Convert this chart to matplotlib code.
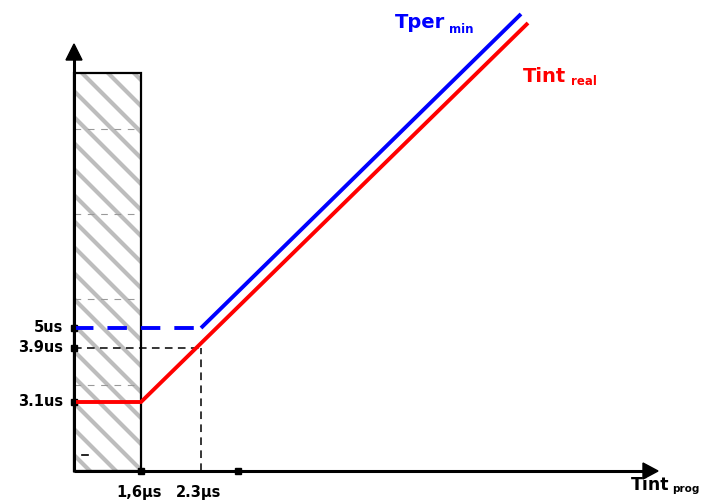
import matplotlib
matplotlib.use("Agg")
import matplotlib.pyplot as plt
from matplotlib.patches import Rectangle, Polygon

# Schematic chart units (origin = axes crossing)
x_tick_pos = [67, 127, 164]
x_tick_labels = ["1,6µs", "2.3µs", ""]
y_tick_pos = [143, 123, 69]
y_tick_labels = ["5us", "3.9us", "3.1us"]

real_x = [0, 67, 454]
real_y = [69, 69, 448]
per_dash_x = [0, 127]
per_dash_y = [143, 143]
per_x = [127, 447]
per_y = [143, 457]

guide_h_x = [0, 127]
guide_h_y = [123, 123]
guide_v_x = [127, 127]
guide_v_y = [0, 123]

forbidden_x = [0, 67]
forbidden_top = 398
faint_rows = [342, 257, 172, 86]

x_axis_end = 584
y_axis_end = 427

W, H = 709, 504
ox, oy = 74, 471
fig = plt.figure(figsize=(W / 100, H / 100), dpi=100)
ax = fig.add_axes([0, 0, 1, 1])
ax.set_xlim(-ox, W - ox)
ax.set_ylim(-(H - oy), oy)
ax.axis("off")

FONT = "DejaVu Sans"

# hatched forbidden region
rect = Rectangle((forbidden_x[0], 0), forbidden_x[1] - forbidden_x[0], forbidden_top,
                 facecolor="white", edgecolor="none", zorder=1)
ax.add_patch(rect)
clip = Rectangle((forbidden_x[0], 0), forbidden_x[1] - forbidden_x[0], forbidden_top,
                 transform=ax.transData, facecolor="none", edgecolor="none")
ax.add_patch(clip)
span = forbidden_x[1] + forbidden_top
c = -10
while c < span + 40:
    ln, = ax.plot([c - 500, c + 500], [500, -500], color="#bdbdbd", lw=3.0,
                  solid_capstyle="butt", zorder=2)
    ln.set_clip_path(clip)
    c += 26
for ry in faint_rows:
    ax.plot(forbidden_x, [ry, ry], color="#999999", lw=0.8, ls=(0, (6, 6)), zorder=2)
ax.plot([8, 14], [16, 16], color="black", lw=1.2, zorder=3)
ax.add_patch(Rectangle((forbidden_x[0], 0), forbidden_x[1] - forbidden_x[0], forbidden_top,
                       facecolor="none", edgecolor="black", lw=1.6, zorder=4))

# guide dashed lines
ax.plot(guide_h_x, guide_h_y, color="black", lw=1.1, ls=(0, (5, 3.5)), zorder=3)
ax.plot(guide_v_x, guide_v_y, color="black", lw=1.1, ls=(0, (5, 3.5)), zorder=3)

# series
ax.plot(per_dash_x, per_dash_y, color="#0000ff", lw=2.8, ls=(0, (5, 3.6)),
        dash_capstyle="butt", zorder=5)
ax.plot(per_x, per_y, color="#0000ff", lw=2.8, solid_capstyle="butt", zorder=5)
ax.plot(real_x, real_y, color="#ff0000", lw=2.8, solid_capstyle="butt",
        solid_joinstyle="miter", zorder=6)

# axes with arrows
ax.plot([0, x_axis_end - 14], [0, 0], color="black", lw=2.2, zorder=7, solid_capstyle="butt")
ax.plot([0, 0], [-1, y_axis_end - 14], color="black", lw=2.2, zorder=7, solid_capstyle="butt")
ax.add_patch(Polygon([[x_axis_end - 15, 8], [x_axis_end, 0], [x_axis_end - 15, -8]],
                     closed=True, color="black", zorder=7))
ax.add_patch(Polygon([[-8, y_axis_end - 16], [0, y_axis_end], [8, y_axis_end - 16]],
                     closed=True, color="black", zorder=7))

# ticks
for xp in x_tick_pos[0:1] + x_tick_pos[2:]:
    ax.plot([xp], [0], marker="s", ms=4.5, color="black", zorder=8)
for xp, lab in zip(x_tick_pos, x_tick_labels):
    if lab:
        ax.text(xp - 2, -22, lab, ha="center", va="center", fontsize=10.5,
                fontweight="bold", family=FONT)
for yp, lab in zip(y_tick_pos, y_tick_labels):
    ax.plot([0], [yp], marker="s", ms=4.5, color="black", zorder=4)
    ax.text(-11, yp, lab, ha="right", va="center", fontsize=10.5,
            fontweight="bold", family=FONT)

# series labels
ax.text(321, 443, "Tper", color="#0000ff", fontsize=14, fontweight="bold",
        family=FONT, ha="left", va="baseline")
ax.text(375, 438, "min", color="#0000ff", fontsize=8.5, fontweight="bold",
        family=FONT, ha="left", va="baseline")
ax.text(449, 389, "Tint", color="#ff0000", fontsize=14, fontweight="bold",
        family=FONT, ha="left", va="baseline")
ax.text(497, 386, "real", color="#ff0000", fontsize=8.5, fontweight="bold",
        family=FONT, ha="left", va="baseline")
ax.text(557, -19, "Tint", color="black", fontsize=12.5, fontweight="bold",
        family=FONT, ha="left", va="baseline")
ax.text(598, -21, "prog", color="black", fontsize=7.5, fontweight="bold",
        family=FONT, ha="left", va="baseline")

fig.savefig("out.png", dpi=100)
